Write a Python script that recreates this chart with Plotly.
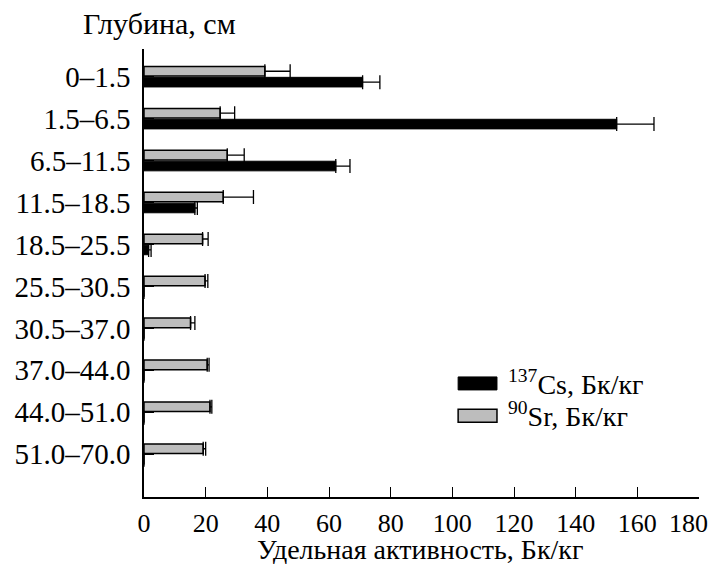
import plotly.graph_objects as go

# depth intervals, top to bottom
depths = ["0–1.5", "1.5–6.5", "6.5–11.5", "11.5–18.5", "18.5–25.5",
          "25.5–30.5", "30.5–37.0", "37.0–44.0", "44.0–51.0", "51.0–70.0"]

# 90Sr activity and its error, Bq/kg
sr_values = [39.2, 24.7, 27.0, 25.7, 19.0, 19.8, 15.1, 20.5, 21.4, 19.2]
sr_errors = [8.2, 4.7, 5.5, 9.8, 1.8, 0.9, 1.4, 0.6, 0.6, 0.8]

# 137Cs activity and its error, Bq/kg
cs_values = [70.9, 153.3, 62.2, 16.5, 1.5, 0, 0, 0, 0, 0]
cs_errors = [5.6, 12.1, 4.6, 0.8, 0.8, 0, 0, 0, 0, 0]

x_ticks = [0, 20, 40, 60, 80, 100, 120, 140, 160, 180]
x_tick_text = ["0", "20", "40", "60", "80", "100", "120", "140", "160", "180"]

FONT = "Liberation Serif"

fig = go.Figure()

fig.add_trace(go.Bar(
    y=depths, x=sr_values, orientation="h", name="Sr",
    marker=dict(color="#bdbdbd", line=dict(color="black", width=1.5)),
    error_x=dict(type="data", symmetric=False, array=sr_errors,
                 arrayminus=[0] * len(sr_errors),
                 color="black", thickness=1.3, width=7),
))
fig.add_trace(go.Bar(
    y=depths, x=cs_values, orientation="h", name="Cs",
    marker=dict(color="black", line=dict(color="black", width=1)),
    error_x=dict(type="data", symmetric=False, array=cs_errors,
                 arrayminus=[0] * len(cs_errors),
                 color="black", thickness=1.3, width=7),
))

# the page body adds an 8px margin all round, so the figure is made
# smaller to fit the 719x572 window without scrolling
fig.update_layout(
    width=703, height=556,
    margin=dict(l=136, r=12, t=41, b=67),
    paper_bgcolor="white", plot_bgcolor="white",
    barmode="group", bargap=0.48, bargroupgap=0.12,
    showlegend=False,
    font=dict(family=FONT, color="black", size=28),
)

# last tick label would be clipped at the right edge, so it is drawn
# separately, right-aligned, further down
fig.update_xaxes(
    range=[0, 180], tickvals=x_ticks,
    ticktext=x_tick_text[:-1] + [""], automargin=False,
    showgrid=False, zeroline=False,
    showline=True, linecolor="black", linewidth=1.5,
    ticks="inside", ticklen=10, tickwidth=1.3, tickcolor="black",
    tickfont=dict(family=FONT, size=26, color="black"),
    ticklabelstandoff=2, ticklabeloverflow="allow",
)
fig.update_yaxes(
    type="category", categoryorder="array", categoryarray=depths,
    range=[10.02, -0.66], automargin=False,
    showgrid=False, zeroline=False,
    showline=True, linecolor="black", linewidth=1.5,
    ticks="inside", ticklen=10, tickwidth=1.3, tickcolor="black",
    tickfont=dict(family=FONT, size=29, color="black"),
    ticklabelstandoff=6,
)

fig.add_annotation(text=x_tick_text[-1], xref="x", yref="paper",
                   x=x_ticks[-1], y=0, xanchor="right", yanchor="middle",
                   xshift=11, yshift=-26, showarrow=False,
                   font=dict(family=FONT, size=26))

# axis titles
fig.add_annotation(text="Глубина, см", xref="paper", yref="paper",
                   x=0.028, y=1.056, xanchor="center", yanchor="middle",
                   showarrow=False, font=dict(family=FONT, size=30))
fig.add_annotation(text="Удельная активность, Бк/кг", xref="paper", yref="paper",
                   x=0.497, y=-0.118, xanchor="center", yanchor="middle",
                   showarrow=False, font=dict(family=FONT, size=28))

# hand-drawn legend with wide swatches
fig.add_shape(type="rect", xref="paper", yref="paper",
              x0=0.566, x1=0.636, y0=0.239, y1=0.268,
              fillcolor="black", line=dict(color="black", width=1))
fig.add_shape(type="rect", xref="paper", yref="paper",
              x0=0.566, x1=0.636, y0=0.167, y1=0.196,
              fillcolor="#bdbdbd", line=dict(color="black", width=1.5))
fig.add_annotation(text="<sup>137</sup>Cs, Бк/кг", xref="paper", yref="paper",
                   x=0.652, y=0.256, xanchor="left", yanchor="middle",
                   showarrow=False, font=dict(family=FONT, size=28))
fig.add_annotation(text="<sup>90</sup>Sr, Бк/кг", xref="paper", yref="paper",
                   x=0.652, y=0.184, xanchor="left", yanchor="middle",
                   showarrow=False, font=dict(family=FONT, size=28))

fig.write_html("out.html")
